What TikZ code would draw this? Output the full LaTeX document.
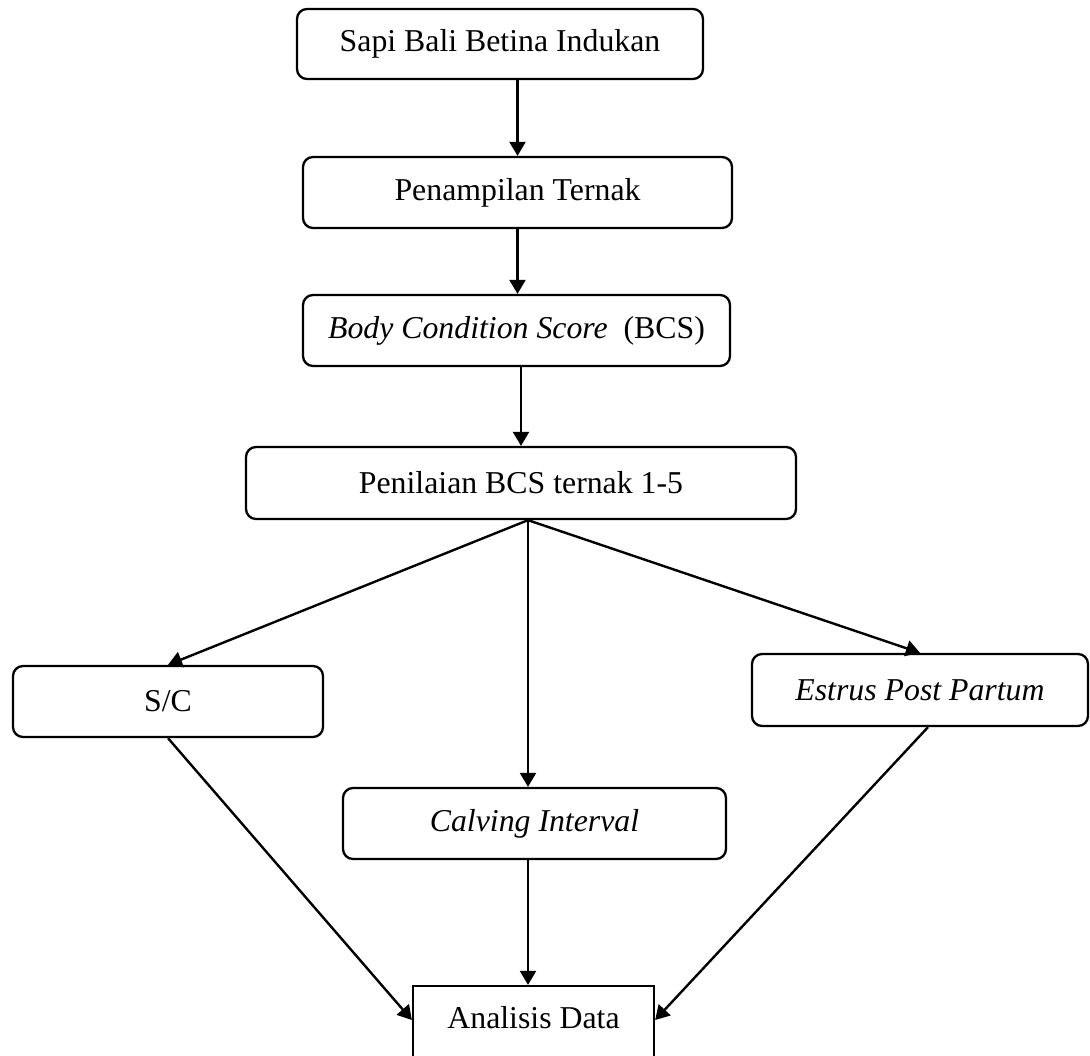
\documentclass[tikz,border=0pt]{standalone}
\usepackage{fontspec}
\setmainfont{Liberation Serif}
\usetikzlibrary{arrows.meta}
\begin{document}
\begin{tikzpicture}[x=1pt,y=-1pt,
  box/.style={draw, line width=2.3pt, rounded corners=10pt, inner sep=0pt,
    font=\fontsize{31.8}{38}\selectfont},
  sqbox/.style={draw, line width=2.3pt, sharp corners, inner sep=0pt,
    font=\fontsize{31.8}{38}\selectfont},
  arr/.style={line width=2.4pt, -{Triangle[length=14pt,width=16pt]}}]
\useasboundingbox (0,0) rectangle (1090,1056);
\clip (0,0) rectangle (1090,1056);
\fill[white] (0,0) rectangle (1090,1056);

\node[box, minimum width=406pt, minimum height=70pt] (b1) at (500,44) {Sapi Bali Betina Indukan};
\node[box, minimum width=429pt, minimum height=71pt] (b2) at (517.5,192.5) {Penampilan Ternak};
\node[box, minimum width=427pt, minimum height=71pt] (b3) at (516.5,330.5) {\textit{Body Condition Score}\ \ (BCS)};
\node[box, minimum width=550pt, minimum height=72pt] (b4) at (521,483) {Penilaian BCS ternak 1-5};
\node[box, minimum width=310pt, minimum height=71pt] (sc) at (168,701.5) {S/C};
\node[box, minimum width=336pt, minimum height=72pt] (ep) at (920,690) {\textit{Estrus Post Partum}};
\node[box, minimum width=383pt, minimum height=71pt] (ci) at (534.5,823.5) {\textit{Calving Interval}};
\node[sqbox, minimum width=241pt, text height=42pt, text depth=42pt] (ad) at (533.5,1028) {Analisis Data};

\coordinate (hub) at ([xshift=7pt]b4.south);

\draw[arr] (b1.south -| b2.north) -- (b2.north);
\draw[arr] (b2.south) -- (b2.south |- b3.north);
\draw[arr] (b3.south -| b4.north) -- (b4.north);
\draw[arr] (hub) -- (sc.north);
\draw[arr] (hub) -- (ep.north);
\draw[arr] (hub) -- (hub |- ci.north);
\draw[arr] (ci.south -| hub) -- (hub |- ad.north);
\draw[arr] (sc.south) -- ([yshift=8pt]ad.west);
\draw[arr] ([xshift=8pt]ep.south) -- ([yshift=8pt]ad.east);
\end{tikzpicture}
\end{document}
